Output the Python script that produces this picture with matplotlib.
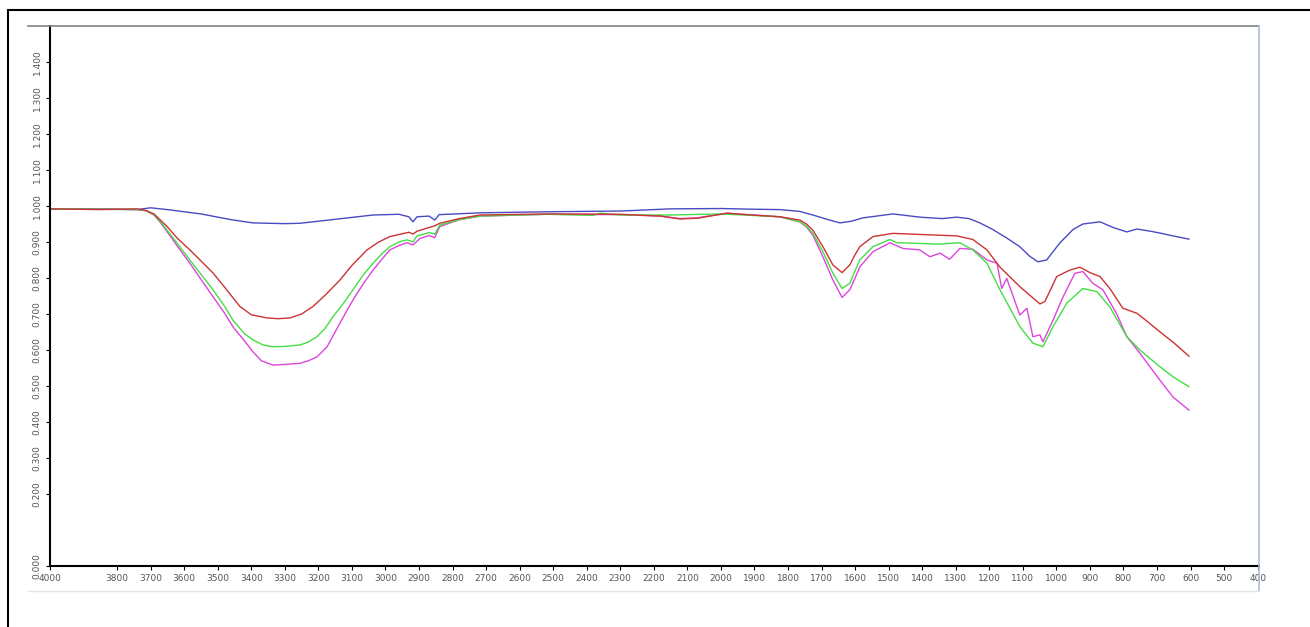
import matplotlib
matplotlib.use("Agg")
import matplotlib.pyplot as plt
from matplotlib.lines import Line2D
from matplotlib.patches import Rectangle

# wavenumbers (cm-1) and transmittance
blue_x = [4000, 3850, 3741, 3700, 3650, 3550, 3460, 3395, 3300, 3255, 3150, 3037, 2960, 2930, 2918, 2906,
          2870, 2853, 2840, 2718, 2519, 2300, 2152, 2000, 1900, 1824, 1765, 1726, 1680, 1645, 1610, 1577,
          1487, 1407, 1340, 1297, 1260, 1228, 1190, 1148, 1109, 1079, 1055, 1029, 990, 950, 921, 870,
          830, 790, 760, 720, 692, 653, 605]
blue_y = [0.992, 0.992, 0.990, 0.995, 0.990, 0.978, 0.962, 0.953, 0.951, 0.952, 0.963, 0.975, 0.977, 0.970, 0.956, 0.970,
          0.972, 0.961, 0.976, 0.981, 0.984, 0.986, 0.992, 0.993, 0.991, 0.990, 0.985, 0.975, 0.962, 0.953, 0.958, 0.967,
          0.978, 0.969, 0.965, 0.969, 0.965, 0.953, 0.935, 0.911, 0.887, 0.860, 0.845, 0.850, 0.897, 0.935, 0.950, 0.956,
          0.940, 0.928, 0.936, 0.930, 0.925, 0.917, 0.908]

red_x = [4000, 3850, 3741, 3715, 3690, 3670, 3651, 3620, 3583, 3514, 3480, 3434, 3400, 3353, 3320, 3285,
         3250, 3216, 3180, 3136, 3100, 3055, 3020, 2987, 2930, 2918, 2906, 2853, 2838, 2780, 2718, 2519,
         2300, 2180, 2122, 2071, 1982, 1923, 1824, 1765, 1745, 1726, 1696, 1666, 1639, 1616, 1600, 1586,
         1547, 1487, 1407, 1297, 1249, 1207, 1168, 1109, 1049, 1034, 999, 960, 930, 900, 870, 840,
         802, 760, 730, 692, 650, 605]
red_y = [0.992, 0.990, 0.992, 0.988, 0.978, 0.960, 0.943, 0.910, 0.878, 0.814, 0.775, 0.721, 0.698, 0.689, 0.687, 0.689,
         0.700, 0.721, 0.752, 0.794, 0.835, 0.878, 0.900, 0.915, 0.927, 0.922, 0.930, 0.945, 0.952, 0.965, 0.975, 0.978,
         0.977, 0.972, 0.964, 0.966, 0.980, 0.976, 0.970, 0.961, 0.950, 0.933, 0.887, 0.836, 0.815, 0.836, 0.865, 0.887,
         0.915, 0.924, 0.921, 0.917, 0.907, 0.878, 0.830, 0.776, 0.728, 0.735, 0.804, 0.822, 0.830, 0.815, 0.804, 0.770,
         0.716, 0.702, 0.680, 0.651, 0.620, 0.583]

green_x = [4000, 3850, 3741, 3715, 3690, 3670, 3651, 3620, 3583, 3514, 3480, 3455, 3420, 3395, 3365, 3335,
           3300, 3255, 3230, 3204, 3180, 3156, 3125, 3097, 3065, 3037, 3010, 2987, 2960, 2936, 2918, 2906,
           2870, 2853, 2838, 2780, 2718, 2519, 2380, 2360, 2300, 2152, 2000, 1824, 1765, 1745, 1726, 1696,
           1666, 1639, 1616, 1600, 1586, 1547, 1496, 1476, 1407, 1347, 1288, 1249, 1207, 1168, 1109, 1070,
           1040, 1010, 969, 921, 879, 841, 790, 751, 692, 653, 605]
green_y = [0.992, 0.991, 0.990, 0.987, 0.976, 0.955, 0.933, 0.895, 0.850, 0.767, 0.722, 0.683, 0.645, 0.628, 0.614, 0.609,
           0.610, 0.614, 0.622, 0.637, 0.660, 0.693, 0.730, 0.767, 0.810, 0.841, 0.868, 0.887, 0.900, 0.906, 0.900, 0.917,
           0.926, 0.922, 0.947, 0.962, 0.972, 0.977, 0.974, 0.980, 0.975, 0.975, 0.978, 0.970, 0.956, 0.944, 0.924, 0.873,
           0.813, 0.771, 0.785, 0.820, 0.850, 0.887, 0.907, 0.898, 0.896, 0.894, 0.898, 0.878, 0.841, 0.767, 0.665, 0.619,
           0.609, 0.665, 0.730, 0.771, 0.762, 0.720, 0.637, 0.600, 0.554, 0.526, 0.498]

magenta_x = [4000, 3850, 3741, 3715, 3690, 3670, 3651, 3620, 3583, 3514, 3480, 3455, 3420, 3395, 3370, 3335,
             3285, 3255, 3230, 3204, 3174, 3136, 3110, 3085, 3060, 3037, 3010, 2987, 2960, 2936, 2918, 2897,
             2870, 2853, 2838, 2780, 2718, 2519, 2300, 2180, 2122, 2071, 1982, 1923, 1824, 1765, 1745, 1726,
             1696, 1666, 1639, 1616, 1600, 1586, 1547, 1496, 1457, 1407, 1377, 1347, 1318, 1288, 1249, 1207,
             1177, 1163, 1148, 1109, 1088, 1070, 1049, 1040, 1010, 980, 945, 921, 891, 861, 820, 790,
             751, 692, 653, 605]
magenta_y = [0.992, 0.991, 0.990, 0.987, 0.975, 0.953, 0.929, 0.888, 0.841, 0.748, 0.703, 0.665, 0.625, 0.595, 0.570, 0.558,
             0.561, 0.563, 0.570, 0.581, 0.609, 0.674, 0.718, 0.757, 0.792, 0.822, 0.853, 0.878, 0.890, 0.898, 0.892, 0.910,
             0.918, 0.912, 0.943, 0.962, 0.972, 0.977, 0.976, 0.972, 0.965, 0.967, 0.980, 0.976, 0.970, 0.956, 0.942, 0.919,
             0.859, 0.794, 0.746, 0.767, 0.800, 0.831, 0.873, 0.898, 0.882, 0.878, 0.859, 0.869, 0.852, 0.882, 0.880, 0.850,
             0.841, 0.771, 0.799, 0.697, 0.716, 0.637, 0.642, 0.623, 0.683, 0.748, 0.813, 0.818, 0.785, 0.767, 0.700, 0.637,
             0.591, 0.517, 0.470, 0.433]

x_ticks = [4000] + list(range(3800, 399, -100))
y_ticks = [0.0, 0.2, 0.3, 0.4, 0.5, 0.6, 0.7, 0.8, 0.9, 1.0, 1.1, 1.2, 1.3, 1.4]

fig = plt.figure(figsize=(13.1, 6.27), dpi=100)
W, H = 1310, 627
ax = fig.add_axes([50 / W, 1 - 566 / H, (1259 - 50) / W, (566 - 26) / H])

ax.plot(blue_x, blue_y, color="#4a4ac4", lw=1)
ax.plot(magenta_x, magenta_y, color="#dd44dd", lw=1)
ax.plot(green_x, green_y, color="#44dd44", lw=1)
ax.plot(red_x, red_y, color="#cc3333", lw=1)

ax.set_xlim(4000, 396)
ax.set_ylim(0, 1.5)
ax.set_xticks(x_ticks)
ax.set_xticklabels([str(t) for t in x_ticks])
ax.set_yticks(y_ticks)
ax.set_yticklabels(["%.3f" % t for t in y_ticks], rotation=90, va="center")
ax.tick_params(labelsize=6.5, labelcolor="#555555", length=3, width=0.8, pad=3)

for s in ["top", "right"]:
    ax.spines[s].set_visible(False)
ax.spines["left"].set_linewidth(1.5)
ax.spines["bottom"].set_linewidth(1.5)

# window frame around the plot
fig.add_artist(Rectangle((8 / W, -0.01), W / W, 1 - 10 / H + 0.01, transform=fig.transFigure,
                         fill=False, edgecolor="black", lw=1.5))
fig.add_artist(Line2D([28 / W, 1259 / W], [1 - 26 / H] * 2, transform=fig.transFigure, color="#808080", lw=1.2))
fig.add_artist(Line2D([1259 / W] * 2, [1 - 26 / H, 1 - 591 / H], transform=fig.transFigure, color="#a8bcd8", lw=1.2))
fig.add_artist(Line2D([28 / W, 1259 / W], [1 - 591 / H] * 2, transform=fig.transFigure, color="#e4e4e4", lw=1))

plt.savefig("out.png", dpi=100)
